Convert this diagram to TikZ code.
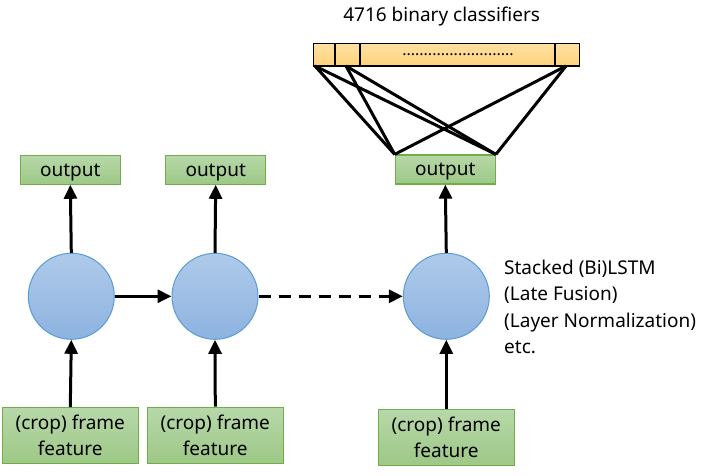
\documentclass[tikz,border=0pt]{standalone}
\usepackage{fontspec}
\setmainfont{Noto Sans}
\usetikzlibrary{arrows.meta}
\definecolor{gborder}{HTML}{71AE48}
\definecolor{gtop}{HTML}{B7D8A9}
\definecolor{gbot}{HTML}{9DC886}
\definecolor{bborder}{HTML}{5B9BD5}
\definecolor{btop}{HTML}{AFCAEA}
\definecolor{bbot}{HTML}{8DB3E0}
\definecolor{otop}{HTML}{FFE0A3}
\definecolor{obot}{HTML}{FFD27A}
\tikzset{
  gbox/.style={rectangle, draw=gborder, line width=1.2pt, top color=gtop, bottom color=gbot, inner sep=0pt, font=\fontsize{19}{26}\selectfont},
  outbox/.style={gbox, minimum width=100pt, minimum height=29pt, text height=15pt, text depth=2pt},
  featbox/.style={gbox, minimum width=136pt, minimum height=56pt, align=center},
  cellnode/.style={circle, draw=bborder, line width=1pt, top color=btop, bottom color=bbot, minimum size=86pt, inner sep=0pt},
  arr/.style={line width=3pt, -{Triangle[length=14pt,width=13pt]}},
  conn/.style={line width=3pt},
  desctext/.style={anchor=base west, inner sep=0pt, font=\fontsize{19}{26}\selectfont},
}
\begin{document}
\begin{tikzpicture}[x=1pt,y=-1pt]
\useasboundingbox (0,0) rectangle (705,476);
% classifier bar
\node[rectangle, draw=black, line width=1.2pt, top color=otop, bottom color=obot, minimum width=266pt, minimum height=22.7pt, inner sep=0pt] (bar) at (446.3,54.7) {};
\draw[line width=1.5pt] (335,43.3) -- (335,66);
\draw[line width=1.5pt] (360,43.3) -- (360,66);
\draw[line width=1.5pt] (555,43.3) -- (555,66);
\node[font=\fontsize{16}{16}\selectfont, inner sep=0pt, anchor=base] (dots) at (458,56) {..........................};
\node[font=\fontsize{19}{24}\selectfont] (title) at (441.7,17) {4716 binary classifiers};
\coordinate (b1) at (315,66);
\coordinate (b2) at (346,66);
\coordinate (b3) at (566,66);
% cells
\node[cellnode] (c1) at (71.3,296.3) {};
\node[cellnode] (c2) at (215,296.3) {};
\node[cellnode] (c3) at (446.3,296.3) {};
% outputs
\node[outbox] (o1) at (70.3,169.7) {output};
\node[outbox] (o2) at (215.7,169.7) {output};
\node[outbox] (o3) at (445.3,169.5) {output};
% features
\node[featbox] (f1) at (70.3,435.7) {(crop) frame\\feature};
\node[featbox] (f2) at (215.3,435.3) {(crop) frame\\feature};
\node[featbox] (f3) at (446.3,437.3) {(crop) frame\\feature};
% text
\node[desctext] (d1) at (504,274) {Stacked (Bi)LSTM};
\node[desctext] (d2) at (504,300.5) {(Late Fusion)};
\node[desctext] (d3) at (504,327) {(Layer Normalization)};
\node[desctext] (d4) at (504,353.5) {etc.};
% arrows
\draw[arr] (f1.north) -- (c1.south);
\draw[arr] (f2.north) -- (c2.south);
\draw[arr] (f3.north) -- (c3.south);
\draw[arr] (c1.north) -- (o1.south);
\draw[arr] (c2.north) -- (o2.south);
\draw[arr] (c3.north) -- (o3.south);
\draw[arr] (c1.east) -- (c2.west);
\draw[arr, dash pattern=on 12pt off 8pt] (c2.east) -- (c3.west);
% classifier connections
\draw[conn] (b1) -- (o3.north west);
\draw[conn] (b1) -- (o3.north east);
\draw[conn] (b2) -- (o3.north west);
\draw[conn] (b2) -- (o3.north east);
\draw[conn] (b3) -- (o3.north west);
\draw[conn] (b3) -- (o3.north east);
\end{tikzpicture}
\end{document}
